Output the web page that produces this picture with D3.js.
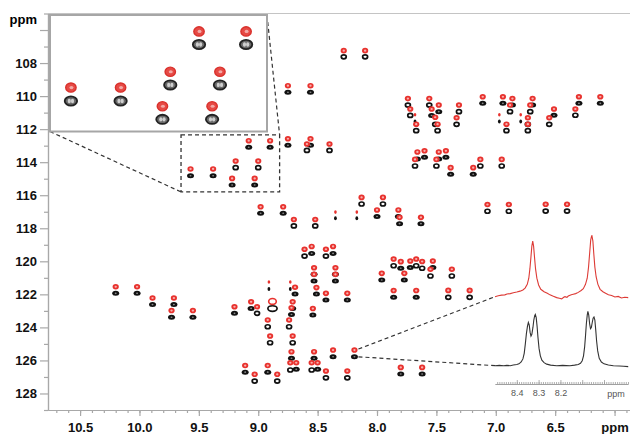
<!DOCTYPE html>
<html>
<head>
<meta charset="utf-8">
<script src="https://cdn.jsdelivr.net/npm/d3@7"></script>
<style>
  body { margin: 0; background: #fff; }
  svg { display: block; font-family: "Liberation Sans", Arial, sans-serif; }
  .axis path, .axis line { stroke: #a8a8a8; stroke-width: 1.2; }
  .axis text { fill: #111; font-size: 13px; font-weight: bold; }
  .spec-axis path, .spec-axis line { stroke: #9a9a9a; stroke-width: 0.8; }
  .spec-axis text { fill: #555; font-size: 9px; }
</style>
</head>
<body>
<svg id="chart" width="630" height="434"></svg>
<script>
// peaks: [1H ppm, 15N ppm (red), 15N ppm (black), shape]
// shape: f = filled, o = open contour, s = weak, L = broad
const peaksTop = [
  [8.28, 107.25, 107.62, 'o'], [8.10, 107.25, 107.62, 'o'],
  [8.75, 109.37, 109.77, 'f'], [8.56, 109.37, 109.77, 'f'],
  [8.75, 112.58, 112.98, 'f'], [8.56, 112.58, 112.98, 'f'],
  [8.59, 112.90, 113.29, 'o'], [8.40, 112.90, 113.29, 'o'],
  [9.08, 112.70, 113.10, 'f'], [8.90, 112.70, 113.10, 'f'],
  [9.19, 113.93, 114.33, 'o'], [9.00, 113.93, 114.33, 'o'],
  [9.22, 114.98, 115.38, 'f'], [9.03, 114.98, 115.38, 'f'],
  [9.57, 114.41, 114.82, 'f'], [9.38, 114.41, 114.82, 'f']
];

const peaksRight = [
  [7.74, 110.15, 110.54, 'o'], [7.56, 110.15, 110.54, 'o'],
  [7.11, 110.04, 110.44, 'f'], [6.94, 110.04, 110.44, 'f'],
  [6.86, 110.15, 110.54, 'f'], [6.69, 110.15, 110.54, 'f'],
  [6.30, 110.04, 110.44, 'f'], [6.12, 110.04, 110.44, 'f'],
  [7.48, 110.54, 110.94, 'f'], [7.31, 110.54, 110.94, 'o'],
  [6.88, 110.54, 110.94, 'o'], [6.71, 110.54, 110.94, 'o'],
  [7.72, 110.78, 111.17, 'o'], [7.54, 110.78, 111.17, 'f'],
  [6.51, 110.78, 111.16, 'f'], [6.33, 110.78, 111.16, 'o'],
  [7.68, 111.13, 111.53, 's'], [7.51, 111.28, 111.71, 'o'], [7.33, 111.31, 111.71, 'o'],
  [6.97, 111.13, 111.53, 's'], [6.79, 111.13, 111.53, 's'],
  [6.73, 111.31, 111.71, 'o'], [6.55, 111.31, 111.71, 'o'],
  [7.67, 111.70, 112.09, 'o'], [7.49, 111.70, 112.09, 'o'],
  [6.91, 111.70, 112.09, 'o'], [6.73, 111.70, 112.09, 'o']
];

const peaksMid = [
  [7.66, 113.38, 113.81, 'f'], [7.60, 113.31, 113.70, 'f'],
  [7.48, 113.38, 113.81, 'f'], [7.42, 113.31, 113.70, 'f'],
  [7.68, 113.83, 114.23, 'o'], [7.50, 113.83, 114.23, 'o'],
  [7.38, 114.33, 114.73, 'f'], [7.19, 114.33, 114.73, 'f'],
  [7.13, 113.83, 114.23, 'o'], [6.95, 113.83, 114.23, 'o'],
  [7.07, 116.56, 116.97, 'o'], [6.89, 116.56, 116.97, 'o'],
  [6.58, 116.55, 116.96, 'o'], [6.40, 116.55, 116.96, 'o'],
  [8.13, 116.13, 116.53, 'o'], [7.95, 116.13, 116.53, 'o'],
  [8.98, 116.70, 117.09, 'f'], [8.79, 116.70, 117.09, 'f'],
  [8.70, 117.47, 117.86, 'o'], [8.52, 117.47, 117.86, 'o'],
  [8.35, 117.02, 117.40, 's'], [8.17, 117.02, 117.40, 's'],
  [8.00, 116.89, 117.29, 'f'], [7.82, 116.89, 117.29, 'f'],
  [7.81, 117.34, 117.72, 'f'], [7.63, 117.34, 117.72, 'f']
];

const peaksCentre = [
  [8.61, 119.27, 119.68, 'o'], [8.55, 119.10, 119.52, 'f'],
  [8.43, 119.27, 119.68, 'o'], [8.37, 119.10, 119.52, 'f'],
  [8.53, 120.39, 120.79, 'f'], [8.53, 120.79, 121.19, 'f'],
  [8.35, 120.39, 120.79, 'f'], [8.35, 120.79, 121.19, 'f'],
  [8.91, 121.25, 121.68, 's'], [8.73, 121.25, 121.68, 's'],
  [8.69, 121.57, 121.98, 'f'], [8.51, 121.59, 121.98, 'f'],
  [8.43, 121.94, 122.34, 'f'], [8.25, 121.94, 122.34, 'f'],
  [7.86, 119.86, 120.27, 'o'], [7.80, 120.02, 120.42, 'f'],
  [7.72, 119.98, 120.38, 'f'], [7.67, 119.86, 120.27, 'o'],
  [7.62, 120.01, 120.42, 'o'], [7.53, 119.98, 120.38, 'f'],
  [7.55, 120.48, 120.89, 'o'], [7.37, 120.48, 120.89, 'o'],
  [7.96, 120.73, 121.13, 'f'], [7.77, 120.73, 121.13, 'f'],
  [7.86, 121.77, 122.18, 'f'], [7.67, 121.77, 122.18, 'f'],
  [7.40, 121.76, 122.18, 'o'], [7.22, 121.76, 122.18, 'o']
];

const peaksLeft = [
  [10.20, 121.54, 121.94, 'f'], [10.02, 121.54, 121.94, 'f'],
  [9.89, 122.22, 122.62, 'f'], [9.71, 122.22, 122.62, 'f'],
  [9.73, 122.98, 123.39, 'f'], [9.55, 122.98, 123.39, 'f']
];

const peaksLow = [
  [9.20, 122.75, 123.15, 'f'], [9.06, 122.45, 122.85, 'f'],
  [9.01, 122.75, 123.15, 'o'], [8.88, 122.43, 122.86, 'L'],
  [8.71, 122.45, 122.85, 'f'], [8.72, 122.81, 123.22, 'f'],
  [8.54, 122.86, 123.25, 'f'],
  [8.92, 123.55, 123.96, 'o'], [8.74, 123.55, 123.96, 'o'],
  [8.90, 124.52, 124.93, 'o'], [8.71, 124.52, 124.93, 'o'],
  [8.72, 125.47, 125.87, 'f'], [8.53, 125.47, 125.87, 'f'],
  [8.37, 125.37, 125.78, 'f'], [8.19, 125.37, 125.78, 'f'],
  [8.73, 126.14, 126.58, 'o'], [8.68, 126.14, 126.54, 'f'],
  [8.55, 126.14, 126.58, 'o'], [8.50, 126.14, 126.54, 'f'],
  [8.43, 126.64, 127.05, 'o'], [8.25, 126.64, 127.05, 'o'],
  [9.11, 126.31, 126.71, 'f'], [8.92, 126.31, 126.71, 'f'],
  [9.03, 126.84, 127.25, 'o'], [8.84, 126.84, 127.25, 'o'],
  [7.80, 126.42, 126.82, 'f'], [7.62, 126.42, 126.82, 'f']
];

// 1D slices through the 8.19 ppm peak: [1H ppm, intensity]
const redTrace = [
  [8.500, 0], [8.485, 1.5], [8.470, 2.5], [8.455, 3], [8.445, 4.5], [8.430, 5], [8.416, 6.5],
  [8.400, 7.5], [8.385, 9], [8.372, 11], [8.362, 14], [8.352, 20], [8.345, 30], [8.340, 45],
  [8.335, 65], [8.331, 82], [8.327, 90], [8.323, 82], [8.319, 65], [8.314, 45], [8.308, 30],
  [8.300, 19], [8.290, 12], [8.275, 8], [8.260, 5.5], [8.248, 3], [8.235, 1], [8.217, -1.5],
  [8.205, -2.5], [8.194, -3.5], [8.185, -1], [8.179, 0], [8.170, -1], [8.164, 1], [8.150, 3],
  [8.141, 4], [8.130, 5], [8.118, 7], [8.105, 10], [8.095, 13], [8.085, 20], [8.077, 30],
  [8.071, 48], [8.066, 70], [8.061, 92], [8.056, 100], [8.051, 90], [8.047, 70], [8.042, 48],
  [8.036, 32], [8.028, 20], [8.018, 12], [8.005, 8], [7.995, 6], [7.980, 3], [7.965, 2],
  [7.950, -0.5], [7.935, 0.5], [7.920, -2], [7.905, -1], [7.889, -1.5]
];

const blackTrace = [
  [8.500, 0], [8.480, 0.5], [8.460, 0], [8.446, 0.5], [8.430, 0], [8.416, 1], [8.400, 2],
  [8.390, 3], [8.380, 6], [8.372, 11], [8.366, 20], [8.361, 35], [8.356, 52], [8.351, 64],
  [8.347, 70], [8.343, 66], [8.339, 54], [8.335, 48], [8.331, 51], [8.326, 62], [8.322, 74],
  [8.318, 81], [8.315, 83], [8.311, 78], [8.307, 64], [8.303, 46], [8.298, 28], [8.292, 16],
  [8.285, 9], [8.275, 5], [8.263, 2.5], [8.245, 1], [8.217, 0], [8.190, 0.5], [8.156, 0],
  [8.135, 1], [8.118, 2], [8.108, 4], [8.100, 8], [8.094, 16], [8.089, 30], [8.085, 48],
  [8.081, 68], [8.077, 82], [8.074, 88], [8.070, 82], [8.066, 68], [8.062, 60], [8.058, 62],
  [8.054, 70], [8.050, 77], [8.046, 79], [8.042, 74], [8.038, 58], [8.034, 40], [8.029, 24],
  [8.022, 12], [8.012, 6], [8.000, 3], [7.980, 1], [7.957, 0], [7.930, -0.5], [7.910, -1],
  [7.889, -1.5]
];

const xMajorTicks = [10.5, 10.0, 9.5, 9.0, 8.5, 8.0, 7.5, 7.0, 6.5, 6.0];
const yMajorTicks = [106, 108, 110, 112, 114, 116, 118, 120, 122, 124, 126, 128];
const specTicks = [8.4, 8.3, 8.2];

// zoomed region shown in the top-left inset
const zoomBoxH = [9.65, 8.82];
const zoomBoxN = [112.35, 115.8];
const zoomViewN = [112.2, 115.75];
const focusPeak = [8.19, 125.37, 125.78];

const peaks = [].concat(peaksTop, peaksRight, peaksMid, peaksCentre, peaksLeft, peaksLow);

const svg = d3.select('#chart');
const x = d3.scaleLinear().domain([10.77, 5.87]).range([48, 630]);
const y = d3.scaleLinear().domain([105, 129]).range([13.5, 410]);

// frame
svg.append('line')
  .attr('x1', 48).attr('x2', 630).attr('y1', 13.5).attr('y2', 13.5)
  .attr('stroke', '#c4c4c4').attr('stroke-width', 1.2);

// x axis
const xMinor = d3.range(59, 108).map(v => v / 10);
svg.append('g').attr('class', 'axis')
  .attr('transform', 'translate(0,410)')
  .call(d3.axisBottom(x).tickValues(xMinor).tickSize(3).tickSizeOuter(0).tickFormat(''));
svg.append('g').attr('class', 'axis')
  .attr('transform', 'translate(0,410)')
  .call(d3.axisBottom(x).tickValues(xMajorTicks).tickSize(6).tickSizeOuter(0).tickPadding(7)
    .tickFormat(d => d === 6 ? 'ppm' : d3.format('.1f')(d)));

// y axis
const yMinor = d3.range(105, 130, 2);
svg.append('g').attr('class', 'axis')
  .attr('transform', 'translate(48,0)')
  .call(d3.axisLeft(y).tickValues(yMinor).tickSize(4).tickSizeOuter(0).tickFormat(''));
svg.append('g').attr('class', 'axis')
  .attr('transform', 'translate(48,0)')
  .call(d3.axisLeft(y).tickValues(yMajorTicks).tickSize(8).tickSizeOuter(0).tickPadding(3)
    .tickFormat(d => d === 106 ? '' : d));
svg.append('text')
  .attr('x', 37).attr('y', 24)
  .attr('text-anchor', 'end')
  .style('font-size', '13px').style('font-weight', 'bold')
  .text('ppm');

// draw one set of peak markers in a given pair of scales
function drawPeaks(g, data, sx, sy) {
  const black = g.append('g');
  data.forEach(d => {
    const cx = sx(d[0]), cy = sy(d[2]);
    if (d[3] === 'f') {
      black.append('ellipse').attr('cx', cx).attr('cy', cy)
        .attr('rx', 3.5).attr('ry', 2.5).attr('fill', '#111');
      black.append('ellipse').attr('cx', cx).attr('cy', cy)
        .attr('rx', 1.0).attr('ry', 0.8).attr('fill', '#8a8a8a');
    } else if (d[3] === 'o') {
      black.append('ellipse').attr('cx', cx).attr('cy', cy)
        .attr('rx', 2.5).attr('ry', 2.0)
        .attr('fill', '#fff').attr('stroke', '#111').attr('stroke-width', 1.7);
    } else if (d[3] === 'L') {
      black.append('ellipse').attr('cx', cx).attr('cy', cy)
        .attr('rx', 4.6).attr('ry', 2.8)
        .attr('fill', '#fff').attr('stroke', '#111').attr('stroke-width', 1.7);
    } else {
      black.append('ellipse').attr('cx', cx).attr('cy', cy)
        .attr('rx', 1.4).attr('ry', 2.0).attr('fill', '#111');
    }
  });
  const red = g.append('g');
  data.forEach(d => {
    const cx = sx(d[0]), cy = sy(d[1]);
    if (d[3] === 's') {
      red.append('ellipse').attr('cx', cx).attr('cy', cy)
        .attr('rx', 1.3).attr('ry', 1.8).attr('fill', '#e8322e');
    } else if (d[3] === 'L') {
      red.append('ellipse').attr('cx', cx).attr('cy', cy)
        .attr('rx', 3.8).attr('ry', 2.9)
        .attr('fill', '#fff').attr('stroke', '#e8322e').attr('stroke-width', 1.6);
    } else {
      red.append('ellipse').attr('cx', cx).attr('cy', cy)
        .attr('rx', 3.1).attr('ry', 2.8).attr('fill', '#e8322e');
      red.append('ellipse').attr('cx', cx).attr('cy', cy)
        .attr('rx', 1.2).attr('ry', 1.1).attr('fill', '#f7b0ae');
    }
  });
}

drawPeaks(svg.append('g'), peaks, x, y);

// dashed zoom box + connectors
const dash = '4,3';
const bx0 = x(zoomBoxH[0]), bx1 = x(zoomBoxH[1]);
const by0 = y(zoomBoxN[0]), by1 = y(zoomBoxN[1]);
svg.append('rect')
  .attr('x', bx0).attr('y', by0).attr('width', bx1 - bx0).attr('height', by1 - by0)
  .attr('fill', 'none').attr('stroke', '#333').attr('stroke-width', 1.3).attr('stroke-dasharray', dash);

const inset = {left: 50, top: 15, width: 217, height: 116.5};
svg.append('line')
  .attr('x1', inset.left).attr('y1', inset.top + inset.height).attr('x2', bx0).attr('y2', by1)
  .attr('stroke', '#333').attr('stroke-width', 1.2).attr('stroke-dasharray', dash);
svg.append('line')
  .attr('x1', inset.left + inset.width).attr('y1', inset.top).attr('x2', bx1).attr('y2', by0)
  .attr('stroke', '#333').attr('stroke-width', 1.2).attr('stroke-dasharray', dash);

// top-left magnified inset
const xi = d3.scaleLinear().domain(zoomBoxH).range([inset.left, inset.left + inset.width]);
const yi = d3.scaleLinear().domain(zoomViewN).range([inset.top, inset.top + inset.height]);
svg.append('rect')
  .attr('x', inset.left).attr('y', inset.top).attr('width', inset.width).attr('height', inset.height)
  .attr('fill', '#fff').attr('stroke', '#a6a6a6').attr('stroke-width', 2);
const insetPeaks = peaks.filter(d => d[0] <= zoomBoxH[0] && d[0] >= zoomBoxH[1] &&
  d[1] >= zoomBoxN[0] && d[2] <= zoomBoxN[1]);
const gi = svg.append('g');
insetPeaks.forEach(d => {
  const cx = xi(d[0]);
  gi.append('ellipse').attr('cx', cx).attr('cy', yi(d[2]))
    .attr('rx', 6.2).attr('ry', 4.6).attr('fill', '#6a6a6a').attr('stroke', '#222').attr('stroke-width', 1.8);
  gi.append('ellipse').attr('cx', cx - 1.6).attr('cy', yi(d[2]))
    .attr('rx', 1.6).attr('ry', 2.2).attr('fill', '#cfcfcf');
  gi.append('ellipse').attr('cx', cx + 1.6).attr('cy', yi(d[2]))
    .attr('rx', 1.6).attr('ry', 2.2).attr('fill', '#cfcfcf');
  gi.append('ellipse').attr('cx', cx).attr('cy', yi(d[1]))
    .attr('rx', 5.2).attr('ry', 4.6).attr('fill', '#e64a45').attr('stroke', '#d9302b').attr('stroke-width', 1.4);
  gi.append('ellipse').attr('cx', cx + 0.5).attr('cy', yi(d[1]))
    .attr('rx', 2.0).attr('ry', 1.6).attr('fill', '#f4a9a6');
});

// 1D slice inset (lower right)
const xs = d3.scaleLinear().domain([8.5, 7.89]).range([495, 628]);
const yRed = d3.scaleLinear().domain([0, 100]).range([296.7, 235]);
const yBlack = d3.scaleLinear().domain([0, 100]).range([365.7, 304]);

svg.append('line')
  .attr('x1', x(focusPeak[0]) + 4).attr('y1', y(focusPeak[1]) - 1)
  .attr('x2', xs(redTrace[0][0])).attr('y2', yRed(redTrace[0][1]))
  .attr('stroke', '#333').attr('stroke-width', 1.2).attr('stroke-dasharray', dash);
svg.append('line')
  .attr('x1', x(focusPeak[0]) + 4).attr('y1', y(focusPeak[2]))
  .attr('x2', xs(blackTrace[0][0])).attr('y2', yBlack(blackTrace[0][1]))
  .attr('stroke', '#333').attr('stroke-width', 1.2).attr('stroke-dasharray', dash);

svg.append('path')
  .datum(redTrace)
  .attr('d', d3.line().x(d => xs(d[0])).y(d => yRed(d[1])))
  .attr('fill', 'none').attr('stroke', '#dd3b36').attr('stroke-width', 1.1);
svg.append('path')
  .datum(blackTrace)
  .attr('d', d3.line().x(d => xs(d[0])).y(d => yBlack(d[1])))
  .attr('fill', 'none').attr('stroke', '#333').attr('stroke-width', 1.1);

const specMinor = d3.range(789, 850).map(v => v / 100);
svg.append('g').attr('class', 'spec-axis')
  .attr('transform', 'translate(0,384)')
  .call(d3.axisTop(xs).tickValues(specMinor).tickSize(2).tickSizeOuter(0).tickFormat(''));
const specAxis = svg.append('g').attr('class', 'spec-axis')
  .attr('transform', 'translate(0,384)')
  .call(d3.axisBottom(xs).tickValues(specTicks).tickSize(0).tickSizeOuter(0).tickPadding(6)
    .tickFormat(d3.format('.1f')));
specAxis.select('.domain').remove();
svg.append('g').attr('class', 'spec-axis')
  .attr('transform', 'translate(0,384)')
  .call(d3.axisTop(xs).tickValues([8.4, 8.3, 8.2, 8.1, 8.0]).tickSize(4).tickSizeOuter(0).tickFormat(''));
svg.append('text')
  .attr('x', 616).attr('y', 397)
  .attr('text-anchor', 'middle')
  .style('font-size', '9px').style('fill', '#555')
  .text('ppm');
</script>
</body>
</html>
